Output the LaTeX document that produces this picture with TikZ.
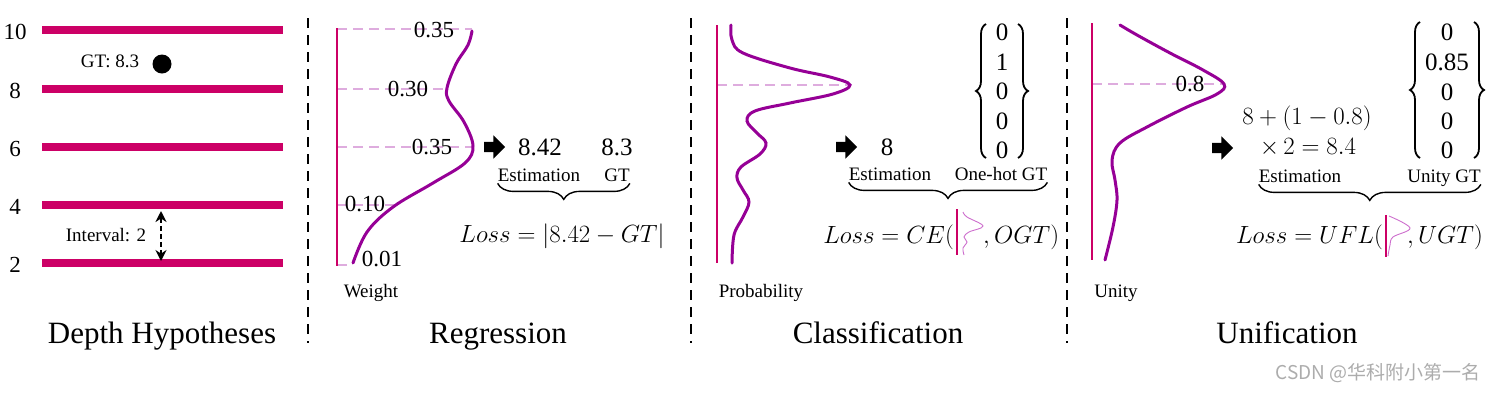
\documentclass[tikz,border=0pt]{standalone}
\usepackage{amsmath}
\usepackage{fontspec}
\setmainfont{Liberation Serif}
\newfontfamily\wmfont{Noto Sans CJK SC}
\usetikzlibrary{arrows.meta,shapes.arrows,decorations.pathreplacing,positioning}
\definecolor{barM}{RGB}{204,0,102}
\definecolor{curveP}{RGB}{150,0,150}
\definecolor{curveL}{RGB}{205,110,205}
\definecolor{dashL}{RGB}{222,172,222}
\newcommand{\fsz}[1]{\fontsize{#1}{#1}\selectfont}

\begin{document}
\begin{tikzpicture}[x=1pt,y=-1pt]
			\tikzstyle{hyp} = [draw=barM, line width=8pt]
			\tikzstyle{axisM} = [draw=barM, line width=2.6pt]
			\tikzstyle{dist} = [draw=curveP, line width=3pt, line cap=round]
			\tikzstyle{guide} = [draw=dashL, line width=2.8pt, dash pattern=on 10pt off 6pt]
			\tikzstyle{sep} = [draw=black, line width=2.6pt, dash pattern=on 10pt off 7pt]
			\tikzstyle{num} = [font=\fsz{23}, inner sep=0pt]
			\tikzstyle{lbl} = [font=\fsz{19}, inner sep=0pt]
			\tikzstyle{ttl} = [font=\fsz{31}, inner sep=0pt, anchor=base]
			\tikzstyle{fat} = [single arrow, fill=black, inner xsep=0pt, inner ysep=5pt,
				minimum height=21pt, single arrow head extend=6.5pt, single arrow head indent=0pt]
			\tikzstyle{brc} = [draw, line width=1.4pt, decorate, decoration={brace, amplitude=16pt, mirror}]
			\tikzstyle{vbrc} = [draw, line width=1.8pt, decorate, decoration={brace, amplitude=10pt}]
			\tikzstyle{lossF} = [font=\fsz{24}, inner sep=0pt]
			\tikzstyle{mini} = [draw=curveL, line width=0.9pt]
			\tikzstyle{ivl} = [draw, line width=2.4pt, dash pattern=on 5pt off 3pt,
				{Stealth[length=11pt,width=11pt]}-{Stealth[length=11pt,width=11pt]}]

			\useasboundingbox (0,0) rectangle (1496,392);

			% depth hypotheses
			\foreach \v/\py in {10/30, 8/89, 6/147, 4/205, 2/263} {
				\draw[hyp] (42,\py) -- (283,\py);
				\node(hyp\v)[num] at (15,\py+1.5) {\v};
			}
			\node(gtLbl)[lbl, anchor=base] at (110,67) {GT: 8.3};
			\fill (162,64) circle (9.5);
			\node(ivLbl)[lbl, anchor=base] at (106,241) {Interval: 2};
			\coordinate (ivTop) at (161,211);
			\coordinate (ivBot) at (161,261);
			\draw[ivl] (ivTop) -- (ivBot);
			\node(ttlDepth)[ttl] at (162,343) {Depth Hypotheses};

			\draw[sep] (308,18) -- (308,343);
			\draw[sep] (691,18) -- (691,343);
			\draw[sep] (1067,18) -- (1067,343);

			% regression
			\draw[guide] (337,29) -- (472,29);
			\draw[guide] (337,89) -- (447,89);
			\draw[guide] (337,147) -- (473,147);
			\draw[guide] (337,205) -- (395,205);
			\draw[guide] (337,265) -- (353,265);
			\draw[axisM] (337,28) -- (337,266);
			\draw[dist] plot[smooth, tension=0.6] coordinates {(353,263) (367,232) (393,207) (433,183)
				(465,163) (473,146) (464,122) (449,101) (447,88) (456,64) (468,45) (472,31)};
			\node(wR1)[num] at (434,30) {0.35};
			\node(wR2)[num] at (408,89) {0.30};
			\node(wR3)[num] at (432,147) {0.35};
			\node(wR4)[num] at (365,204) {0.10};
			\node(wR5)[num] at (382,259) {0.01};
			\node(weight)[lbl, anchor=base] at (371,297) {Weight};
			\node(arrR)[fat] at (492,147) {};
			\node(valR)[font=\fsz{25}, inner sep=0pt, anchor=base] at (540,155) {8.42};
			\node(gtvR)[font=\fsz{25}, inner sep=0pt, anchor=base] at (617,155) {8.3};
			\node(estR)[lbl, anchor=base] at (539,181) {Estimation};
			\node(gtR)[lbl, anchor=base] at (617,181) {GT};
			\draw[brc] ([yshift=-2pt]estR.south west) -- ([yshift=-2pt]estR.south west -| gtR.east);
			\node(lossR)[lossF, anchor=base] at (562,242) {$Loss=|8.42-GT|$};
			\node(ttlReg)[ttl] at (498,343) {Regression};

			% classification
			\draw[guide] (717,85) -- (850,85);
			\draw[axisM] (717,25) -- (717,263);
			\draw[dist] plot[smooth, tension=0.6] coordinates {(731,25) (732,40) (743,53) (790,68)
				(830,77) (850,85) (833,94) (790,103) (755,111) (747,121) (757,133) (766,143)
				(760,154) (741,167) (737,178) (743,190) (749,202) (743,217) (734,235) (732,263)};
			\node(prob)[lbl, anchor=base] at (761,297) {Probability};
			\node(arrC)[fat] at (844,147) {};
			\node(valC)[font=\fsz{25}, inner sep=0pt, anchor=base] at (887,155) {8};
			\foreach \i/\py/\t in {1/32/0, 2/62/1, 3/91/0, 4/121/0, 5/150/0} {
				\node(ohC\i)[font=\fsz{25}, inner sep=0pt] at (1002,\py) {\t};
			}
			\coordinate (cbL1) at (986,158);
			\coordinate (cbL2) at (986,24);
			\coordinate (cbR1) at (1018,24);
			\coordinate (cbR2) at (1018,158);
			\draw[vbrc] (cbL1) -- (cbL2);
			\draw[vbrc] (cbR1) -- (cbR2);
			\node(estC)[lbl, anchor=base] at (890,180) {Estimation};
			\node(gtC)[lbl, anchor=base] at (1001,180) {One-hot GT};
			\draw[brc] ([yshift=-2pt]estC.south west) -- ([yshift=-2pt]estC.south west -| gtC.east);
			\node(lossCa)[lossF, anchor=base east] at (954,243) {$Loss=CE($};
			\draw[axisM, line width=1.6pt] (957,209) -- (957,255);
			\draw[mini] plot[smooth, tension=0.6] coordinates {(963,212) (967,217) (983,226) (969,232)
				(964,237) (967,242) (963,248) (964,255)};
			\node(lossCb)[lossF, anchor=base west] at (983,243) {$,OGT)$};
			\node(ttlCls)[ttl] at (878,343) {Classification};

			% unification
			\draw[guide] (1092,84) -- (1224,84);
			\draw[axisM] (1092,23) -- (1092,260);
			\draw[dist] plot[smooth, tension=0.6] coordinates {(1120,25) (1137,35) (1170,53) (1203,70)
				(1224,84) (1217,94) (1187,107) (1147,127) (1120,143) (1112,160) (1115,180)
				(1117,200) (1113,227) (1105,260)};
			\node(peakU)[num] at (1190,84) {0.8};
			\node(unity)[lbl, anchor=base] at (1116,297) {Unity};
			\node(arrU)[fat] at (1220,148) {};
			\node(estU1)[lossF, anchor=base] at (1307,124) {$8+(1-0.8)$};
			\node(estU2)[lossF, anchor=base] at (1308,154) {$\times\,2=8.4$};
			\foreach \i/\py/\t in {1/32/0, 2/62/0.85, 3/92/0, 4/121/0, 5/150/0} {
				\node(ugU\i)[font=\fsz{25}, inner sep=0pt] at (1447,\py) {\t};
			}
			\coordinate (ubL1) at (1420,158);
			\coordinate (ubL2) at (1420,22);
			\coordinate (ubR1) at (1474,22);
			\coordinate (ubR2) at (1474,158);
			\draw[vbrc] (ubL1) -- (ubL2);
			\draw[vbrc] (ubR1) -- (ubR2);
			\node(estU)[lbl, anchor=base] at (1300,182) {Estimation};
			\node(gtU)[lbl, anchor=base] at (1444,182) {Unity GT};
			\draw[brc] ([yshift=-2pt]estU.south west) -- ([yshift=-2pt]estU.south west -| gtU.east);
			\node(lossUa)[lossF, anchor=base east] at (1383,243) {$Loss=UFL($};
			\draw[axisM, line width=1.6pt] (1386,215) -- (1386,257);
			\draw[mini] plot[smooth, tension=0.6] coordinates {(1389,216) (1410,228) (1393,237)
				(1390,245) (1388,256)};
			\node(lossUb)[lossF, anchor=base west] at (1407,243) {$,UGT)$};
			\node(ttlUni)[ttl] at (1287,343) {Unification};

			\node(wmark)[font=\wmfont\fsz{19}, text=gray!65, inner sep=0pt] at (1378,373) {CSDN @华科附小第一名};
		\end{tikzpicture}
\end{document}
